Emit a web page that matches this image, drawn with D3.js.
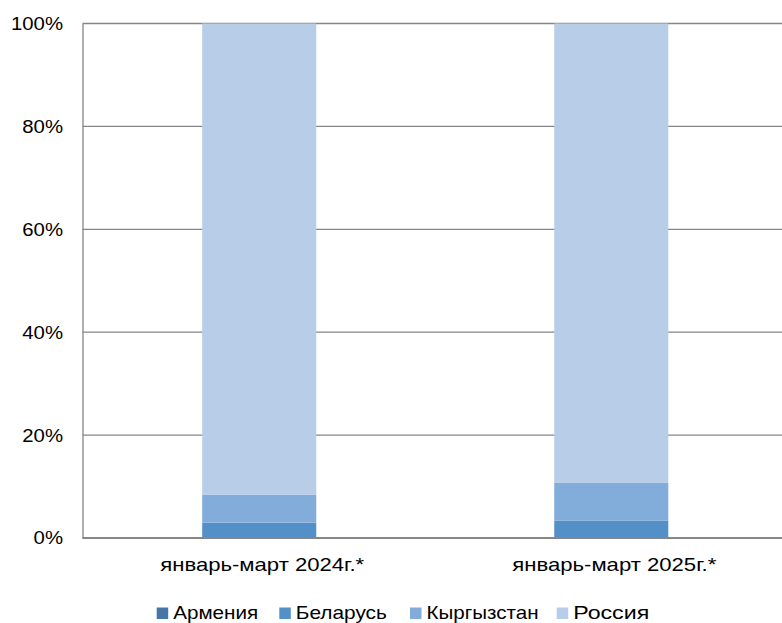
<!DOCTYPE html>
<html><head><meta charset="utf-8">
<script src="https://cdn.jsdelivr.net/npm/d3@7"></script>
<style>body{margin:0;background:#fff}svg{display:block}text{font-family:"Liberation Sans",Arial,sans-serif;fill:#000}</style>
</head><body>
<svg id="c" width="782" height="623"></svg>
<script>
const categories = ["январь-март 2024г.*", "январь-март 2025г.*"];
const seriesNames = ["Армения", "Беларусь", "Кыргызстан", "Россия"];
const armenia = [0.1, 0.1];
const belarus = [2.9, 3.3];
const kyrgyzstan = [5.4, 7.3];
const russia = [91.6, 89.3];
const yTicks = [0, 20, 40, 60, 80, 100];
const colors = ["#4676A8", "#5490C8", "#82ADDB", "#B8CEE8"];

const svg = d3.select("#c");
const FONT = "Liberation Sans, Arial, sans-serif";
const L = 82.5, W = 782;
const x = d3.scaleBand().domain(categories).range([L, 788]).paddingInner(0.676).paddingOuter(0.34);
const y = d3.scaleLinear().domain([0, 100]).range([538, 23.5]);

const rows = categories.map((c, i) => ({cat: c, "Армения": armenia[i], "Беларусь": belarus[i], "Кыргызстан": kyrgyzstan[i], "Россия": russia[i]}));
const stack = d3.stack().keys(seriesNames).offset(d3.stackOffsetExpand)(rows);

// gridlines
svg.append("g").selectAll("line").data(yTicks.filter(d => d > 0)).join("line")
  .attr("x1", L).attr("x2", W).attr("y1", d => y(d)).attr("y2", d => y(d))
  .attr("stroke", "#868686").attr("stroke-width", 1.3);

// bars
svg.append("g").selectAll("g").data(stack).join("g").attr("fill", (d, i) => colors[i])
  .selectAll("rect").data(d => d).join("rect")
  .attr("x", d => x(d.data.cat)).attr("width", x.bandwidth())
  .attr("y", d => y(d[1] * 100)).attr("height", d => y(d[0] * 100) - y(d[1] * 100));

// axes
const yAxis = svg.append("g").attr("transform", `translate(${L},0)`)
  .call(d3.axisLeft(y).tickValues(yTicks).tickFormat(d => d + "%").tickSize(0).tickPadding(19.5));
yAxis.select(".domain").attr("stroke", "#868686").attr("stroke-width", 1.3);
yAxis.selectAll("text").attr("font-size", 18.5).attr("font-family", FONT).attr("fill", "#000")
  .each(function() { const w = this.getComputedTextLength(); d3.select(this).attr("textLength", w * 1.1).attr("lengthAdjust", "spacingAndGlyphs"); });

const xAxis = svg.append("g").attr("transform", `translate(0,${y(0)})`)
  .call(d3.axisBottom(x).tickSize(0).tickPadding(19.5));
xAxis.select(".domain").attr("d", `M${L},0H${W}`).attr("stroke", "#868686").attr("stroke-width", 2);
xAxis.selectAll("text").attr("font-size", 18.5).attr("font-family", FONT).attr("fill", "#000")
  .attr("x", 3).attr("textLength", 204).attr("lengthAdjust", "spacingAndGlyphs");

// legend
const legX = [156.7, 279.3, 410, 556.7];
const legW = [85, 91, 112, 76];
const leg = svg.append("g").selectAll("g").data(seriesNames).join("g")
  .attr("transform", (d, i) => `translate(${legX[i]},0)`);
leg.append("rect").attr("x", 0).attr("y", 607.5).attr("width", 11.5).attr("height", 11.5).attr("fill", (d, i) => colors[i]);
leg.append("text").attr("x", 16.5).attr("y", 619).attr("font-size", 18.5)
  .attr("textLength", (d, i) => legW[i]).attr("lengthAdjust", "spacingAndGlyphs").text(d => d);
</script>
</body></html>
